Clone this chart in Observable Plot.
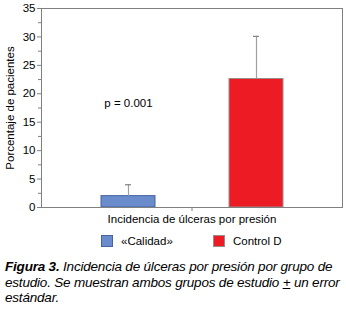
<!DOCTYPE html>
<html><head><meta charset="utf-8">
<script src="https://cdn.jsdelivr.net/npm/d3@7"></script>
<script src="https://cdn.jsdelivr.net/npm/@observablehq/plot@0.6"></script>
<style>
html,body{margin:0;padding:0;background:#fff;}
body{width:346px;height:312px;overflow:hidden;position:relative;font-family:"Liberation Sans",Arial,Helvetica,sans-serif;color:#000;}
#chart{position:absolute;left:0;top:0;}
#legend{position:absolute;left:101px;top:235px;display:flex;font-size:11.5px;}
.item{display:flex;align-items:center;}
.sw{width:12px;height:12px;box-sizing:border-box;border:1px solid;margin-right:8px;}
#caption{position:absolute;left:5px;top:259px;font-size:13.5px;line-height:15.5px;font-style:italic;white-space:nowrap;letter-spacing:-0.2px;}
</style></head><body>
<div id="chart"></div>
<div id="legend"></div>
<div id="caption"><b>Figura 3.</b> Incidencia de úlceras por presión por grupo de<br>estudio. Se muestran ambos grupos de estudio <u>+</u> un error<br>estándar.</div>
<script>
const categories = ["Incidencia de úlceras por presión"];
const groups = ["«Calidad»", "Control D"];
const values = [2.0, 22.6];
const errors = [2.0, 7.5];
const fills = ["#6a8ccc", "#ed1c24"];
const strokes = ["#4563a3", "#9a8c8c"];
const yTicks = [0, 5, 10, 15, 20, 25, 30, 35];
const yMinorTicks = [2.5, 7.5, 12.5, 17.5, 22.5, 27.5, 32.5];
const annotationText = ["p = 0.001"];
const annotationGroup = ["«Calidad»"];
const annotationValue = [18.3];
const yLabel = "Porcentaje de pacientes";

const data = groups.map((g, i) => ({
  category: categories[0], group: g, value: values[i], err: errors[i],
  fill: fills[i], stroke: strokes[i]
}));
const notes = annotationText.map((t, i) => ({
  category: categories[0], group: annotationGroup[i], value: annotationValue[i], text: t
}));

const font = '"Liberation Sans", Arial, Helvetica, sans-serif';
const chart = Plot.plot({
  width: 346, height: 227,
  marginTop: 8, marginLeft: 41, marginRight: 4, marginBottom: 20,
  style: {fontFamily: font, fontSize: "11px", color: "#000", background: "transparent"},
  fx: {domain: categories, padding: 0, label: null},
  x: {domain: groups, paddingInner: 0.58, paddingOuter: 0.46, axis: null},
  y: {domain: [0, 35], label: null},
  color: {type: "identity"},
  marks: [
    Plot.barY(data, {fx: "category", x: "group", y: "value", fill: "fill", stroke: "stroke", strokeWidth: 1}),
    Plot.ruleX(data, {fx: "category", x: "group", y1: "value", y2: d => d.value + d.err, stroke: "#a0a0a0", strokeWidth: 1.2}),
    Plot.tickY(data, {fx: "category", x: "group", y: d => d.value + d.err, insetLeft: 24, insetRight: 24, stroke: "#808080", strokeWidth: 1.2}),
    Plot.text(notes, {fx: "category", x: "group", y: "value", text: "text", fontSize: 11.5, fill: "#000"}),
    Plot.frame({stroke: "#808080"}),
    Plot.axisY({ticks: yMinorTicks, tickSize: 3, tickFormat: () => "", label: null, stroke: "#808080"}),
    Plot.axisY({ticks: yTicks, tickSize: 4, tickPadding: 2, label: yLabel, labelAnchor: "center", labelArrow: "none", labelOffset: 36, stroke: "#808080", fontSize: 11.5}),
    Plot.axisFx({anchor: "bottom", tickSize: 4, tickPadding: 3, label: null, stroke: "#808080", fontSize: 11.5})
  ]
});
document.getElementById("chart").appendChild(chart);

const legend = document.getElementById("legend");
groups.forEach((g, i) => {
  const item = document.createElement("div");
  item.className = "item";
  if (i < groups.length - 1) item.style.width = "112px";
  const sw = document.createElement("div");
  sw.className = "sw";
  sw.style.background = fills[i];
  sw.style.borderColor = strokes[i];
  const lab = document.createElement("span");
  lab.textContent = g;
  item.appendChild(sw);
  item.appendChild(lab);
  legend.appendChild(item);
});
</script>
</body></html>
